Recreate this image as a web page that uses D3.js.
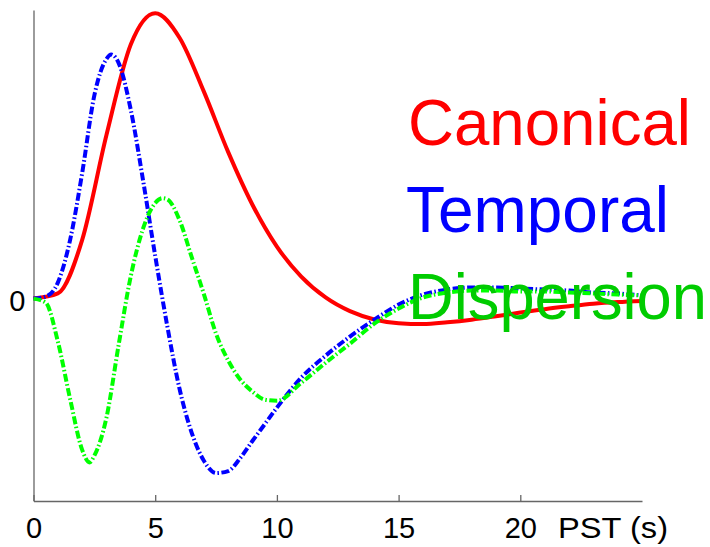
<!DOCTYPE html>
<html>
<head>
<meta charset="utf-8">
<script src="https://cdn.jsdelivr.net/npm/d3@7"></script>
<style>
  body { margin: 0; background: #fff; }
  text { font-family: "Liberation Sans", Arial, sans-serif; }
</style>
</head>
<body>
<div id="hrf_div"></div>
<script>
// values (peak of the canonical curve = 1)
const redTime = [0, 1, 2, 3, 4, 5, 6, 7, 8, 9, 10, 11, 12, 13, 14, 15, 16, 17, 18, 19, 20, 21, 22, 23, 24, 25];
const canonical = [0, 0.018, 0.206, 0.574, 0.891, 1.0, 0.914, 0.725, 0.513, 0.328, 0.182, 0.077, 0.004, -0.044, -0.073, -0.086, -0.089, -0.083, -0.074, -0.062, -0.049, -0.037, -0.027, -0.018, -0.012, -0.008];

const blueTime = [0, 0.5, 1, 1.5, 2, 2.5, 3, 3.2, 3.5, 4, 4.5, 5, 5.5, 6, 6.5, 7, 7.5, 8, 8.5, 9, 9.5, 10, 11, 12, 13, 14, 15, 16, 17, 18, 19, 20, 21, 22, 23, 24, 25];
const temporal = [0, 0.007, 0.056, 0.204, 0.44, 0.712, 0.84, 0.855, 0.825, 0.66, 0.415, 0.15, -0.098, -0.316, -0.47, -0.568, -0.611, -0.604, -0.558, -0.498, -0.44, -0.382, -0.277, -0.2, -0.133, -0.074, -0.021, 0.014, 0.032, 0.039, 0.039, 0.035, 0.032, 0.028, 0.021, 0.018, 0.011];

const greenTime = [0, 0.5, 1, 1.5, 2, 2.3, 2.5, 3, 3.5, 4, 4.5, 5, 5.3, 5.5, 6, 6.5, 7, 7.5, 8, 8.5, 9, 9.5, 10, 11, 12, 13, 14, 15, 16, 17, 18, 19, 20, 21, 22, 23, 24, 25];
const dispersion = [0, -0.014, -0.15, -0.35, -0.53, -0.574, -0.55, -0.416, -0.161, 0.08, 0.245, 0.335, 0.352, 0.348, 0.275, 0.145, 0.016, -0.123, -0.217, -0.284, -0.326, -0.354, -0.358, -0.295, -0.225, -0.158, -0.088, -0.035, 0.004, 0.021, 0.028, 0.028, 0.025, 0.025, 0.021, 0.018, 0.014, 0.011];

const xTicks = [0, 5, 10, 15, 20];
const yTicks = [0];
const labels = ["Canonical", "Temporal", "Dispersion"];

const width = 710, height = 547;

const svg = d3.select("#hrf_div")
    .append("svg")
    .attr("width", width)
    .attr("height", height);

svg.append("rect").attr("width", width).attr("height", height).attr("fill", "#fff");

let xScale = d3.scaleLinear()
            .domain([0, 25])
            .range([33.5, 642]);

let yScale = d3.scaleLinear()
            .domain([-0.709, 1.011])
            .range([501, 10]);

// x axis, ticks pointing inwards
svg.append("g")
    .attr("transform", "translate(0, " + yScale.range()[0] + ")")
    .call(d3.axisBottom(xScale)
            .tickValues(xTicks)
            .tickSizeInner(-6)
            .tickSizeOuter(0)
            .tickPadding(16))
    .call(g => g.selectAll("path, line").attr("stroke", "#666").attr("stroke-width", 1.3))
    .call(g => g.selectAll("text").attr("font-size", 29).attr("fill", "#000")
                 .attr("font-family", "'Liberation Sans', Arial, sans-serif"));

svg.append("text")
    .attr("x", xScale(21.55))
    .attr("y", yScale.range()[0] + 36.6)
    .attr("font-size", 29)
    .attr("textLength", 110)
    .attr("lengthAdjust", "spacingAndGlyphs")
    .text("PST (s)");

svg.append("g")
    .attr("transform", "translate(" + xScale(0) + ", 0)")
    .call(d3.axisLeft(yScale)
            .tickValues(yTicks)
            .tickFormat(d3.format("d"))
            .tickSize(0)
            .tickPadding(8))
    .call(g => g.selectAll("path").attr("stroke", "#666").attr("stroke-width", 1.3))
    .call(g => g.selectAll("text").attr("font-size", 29).attr("fill", "#000").attr("dy", "0.4em")
                 .attr("font-family", "'Liberation Sans', Arial, sans-serif"));

const series = [
    {time: redTime, values: canonical, color: "#ff0000", dash: null},
    {time: blueTime, values: temporal, color: "#0000ff", dash: "8,2.5,1.5,2.5"},
    {time: greenTime, values: dispersion, color: "#00ff00", dash: "8,2.5,1.5,2.5"}
];

const line = d3.line()
    .x(function(d) { return xScale(d[0]); })
    .y(function(d) { return yScale(d[1]); })
    .curve(d3.curveMonotoneX);

for(let i = 0; i < series.length; i++){
    const s = series[i];
    svg.append("path")
        .datum(s.time.map((t, j) => [t, s.values[j]]))
        .attr("fill", "none")
        .attr("stroke", s.color)
        .attr("stroke-width", 4)
        .attr("stroke-dasharray", s.dash)
        .attr("d", line);
}

// labels on the right
const labelColors = ["#ff0000", "#0000ff", "#00cc00"];
const labelX = [408, 406, 408];
const labelY = [145, 232.3, 319];
const labelLen = [283, 263, 299];

svg.selectAll(".label")
    .data(labels)
    .enter()
    .append("text")
    .attr("class", "label")
    .attr("x", (d, i) => labelX[i])
    .attr("y", (d, i) => labelY[i])
    .attr("font-size", 65)
    .attr("textLength", (d, i) => labelLen[i])
    .attr("lengthAdjust", "spacingAndGlyphs")
    .attr("fill", (d, i) => labelColors[i])
    .text(d => d);
</script>
</body>
</html>
